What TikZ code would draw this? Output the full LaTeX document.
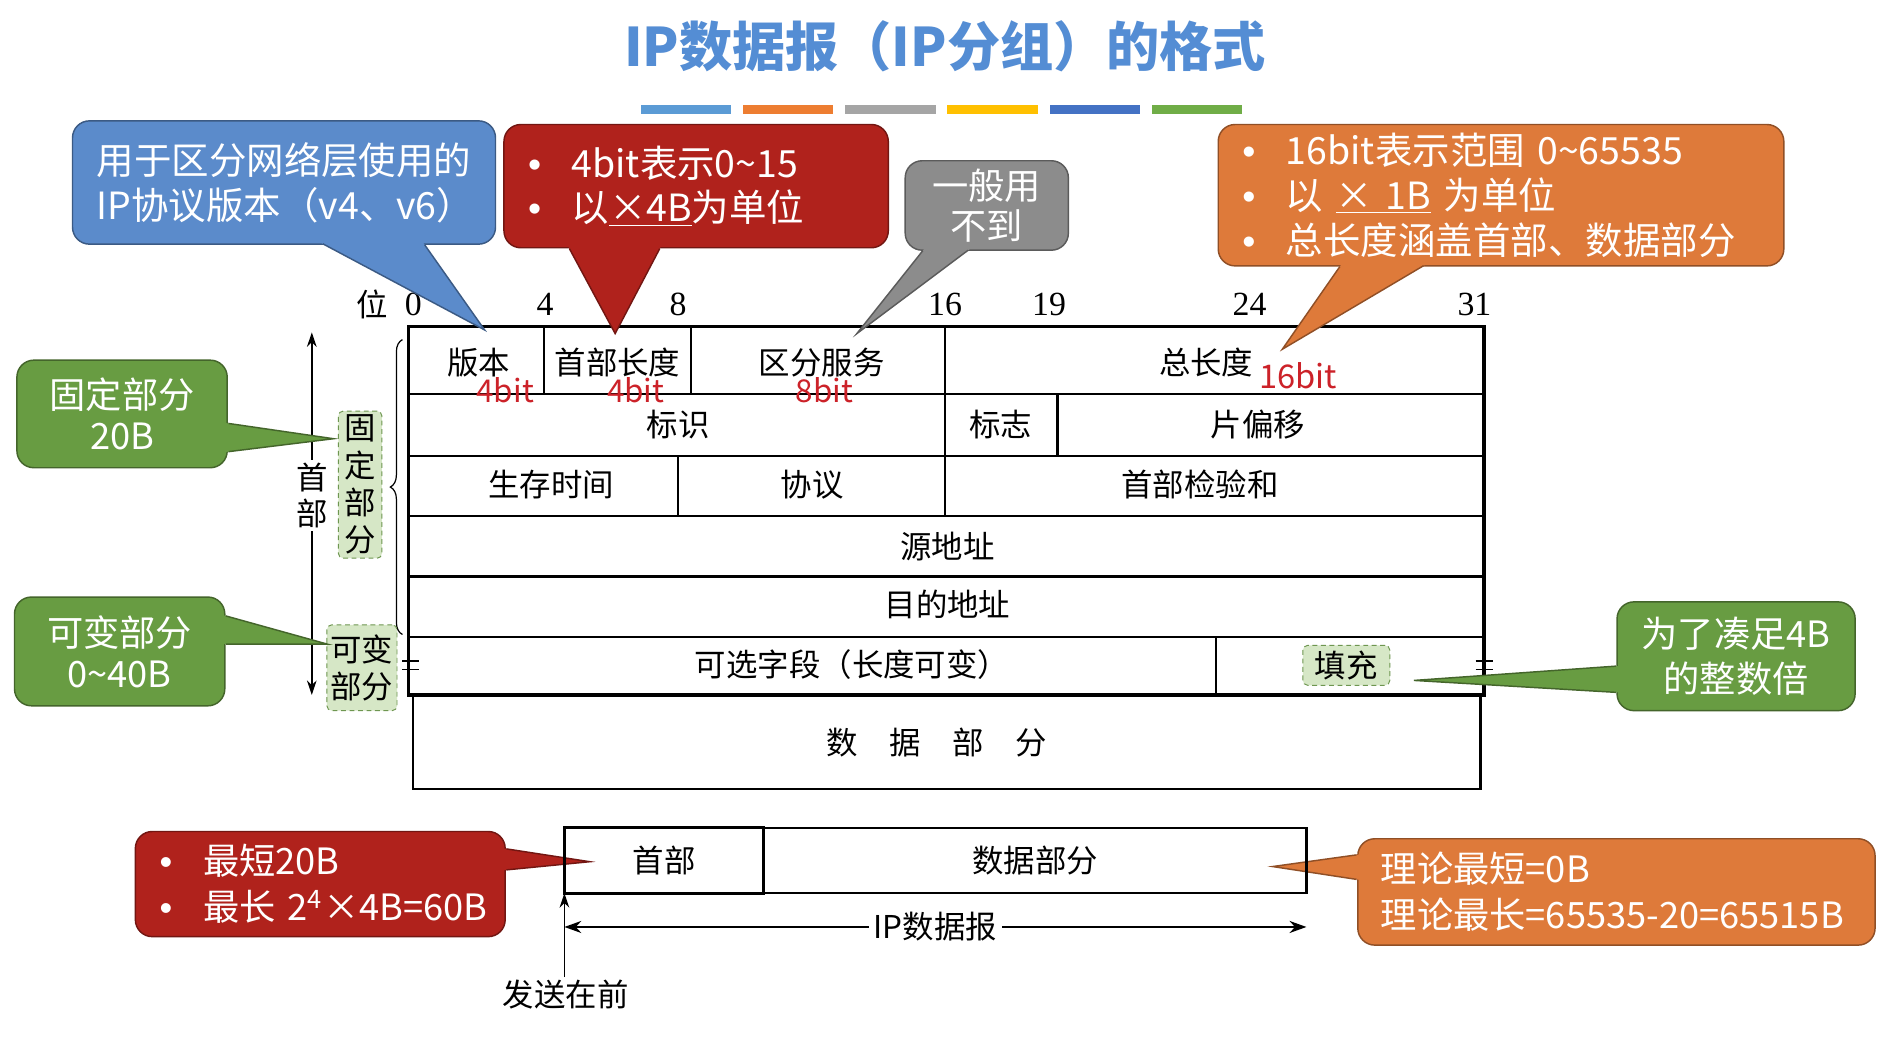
\documentclass[tikz,border=0pt]{standalone}
\usepackage{fontspec}
\setmainfont{Noto Sans CJK SC}
\newfontfamily\numfont{Liberation Serif}
\newfontfamily\bulfont{Liberation Sans}
\usetikzlibrary{positioning,arrows.meta,decorations.pathreplacing}

\definecolor{titleblue}{RGB}{84,141,212}
\definecolor{cblue}{RGB}{91,139,203}
\definecolor{cred}{RGB}{176,34,28}
\definecolor{cgray}{RGB}{140,140,140}
\definecolor{corange}{RGB}{222,122,58}
\definecolor{cgreen}{RGB}{104,156,66}
\definecolor{lgreen}{RGB}{214,231,198}
\definecolor{dgreen}{RGB}{110,150,80}
\definecolor{bitred}{RGB}{204,34,41}
\definecolor{barblue}{RGB}{91,155,213}
\definecolor{barorange}{RGB}{237,125,49}
\definecolor{bargray}{RGB}{165,165,165}
\definecolor{baryellow}{RGB}{255,192,0}
\definecolor{bardblue}{RGB}{68,114,196}
\definecolor{bargreen}{RGB}{112,173,71}

\newcommand{\dotitem}{\makebox[18pt][l]{\bulfont •}}
% pointer of a callout: base point, tip, base point
\newcommand{\calltip}[4]{%
  \fill[#1] (#2) -- (#3) -- (#4) -- cycle;
  \draw[#1!65!black, line width=0.6pt, shorten <=1.2pt, shorten >=1.2pt] (#2) -- (#3) -- (#4);}

\begin{document}
\begin{tikzpicture}[x=0.5pt, y=-0.5pt, >={Stealth[length=6pt,width=4pt]},
    cell/.style={font=\fontsize{13}{15}\selectfont, inner sep=1pt},
    bitnum/.style={font=\numfont\fontsize{14}{16}\selectfont, inner sep=1pt},
    bitlen/.style={font=\fontsize{13}{15}\selectfont, text=bitred, inner sep=0pt},
    tipbox/.style={rounded corners=7pt, draw=#1!65!black, fill=#1, text=white, line width=0.6pt,
      font=\fontsize{15.5}{18.5}\selectfont, inner xsep=10pt, inner ysep=2pt},
    padbox/.style={draw=dgreen, dash pattern=on 2pt off 1.5pt, fill=lgreen, rounded corners=2pt,
      inner sep=1.5pt, align=center, font=\fontsize{13}{15.5}\selectfont}]
  \fill[white] (0,0) rectangle (1568,859);
  \useasboundingbox (0,0) rectangle (1568,859);

  % title
  \node[font=\bfseries\fontsize{22}{26}\selectfont, text=titleblue] (title) at (782,38) {IP数据报（IP分组）的格式};
  \foreach \c [count=\i from 0] in {barblue,barorange,bargray,baryellow,bardblue,bargreen}
    \fill[\c] (530+84.6*\i,87) rectangle ++(75,7);

  % header grid
  \draw[line width=1.5pt] (338,270) rectangle (1228,575);
  \foreach \y in {326,377,427,477,527}
    \draw[line width=0.9pt] (338,\y) -- (1228,\y);
  \draw[line width=0.9pt] (450,270) -- (450,326) (572,270) -- (572,326) (782,270) -- (782,427)
    (875,326) -- (875,377) (561,377) -- (561,427) (1006,527) -- (1006,575);
  \draw[line width=0.9pt] (342,575) rectangle (1225,653);
  \draw[line width=0.7pt] (333,547) -- (347,547) (333,554) -- (347,554)
    (1221,547) -- (1235,547) (1221,554) -- (1235,554);

  \node[cell] (wei) at (308,252) {位};
  \foreach \b/\x in {0/342,4/451,8/561,16/782,19/868,24/1034,31/1220}
    \node[bitnum] (bit\b) at (\x,252) {\b};

  \begin{scope}[every node/.style={cell}]
    \node (ver) at (396,300) {版本};
    \node (hlen) at (511,300) {首部长度};
    \node (tos) at (680,300) {区分服务};
    \node (tlen) at (998,300) {总长度};
    \node (ident) at (561,351) {标识};
    \node (flag) at (828,351) {标志};
    \node (frag) at (1041,351) {片偏移};
    \node (ttl) at (456,401) {生存时间};
    \node (proto) at (672,401) {协议};
    \node (csum) at (993,401) {首部检验和};
    \node (src) at (784,452) {源地址};
    \node (dst) at (784,500) {目的地址};
    \node (opt) at (705,550) {可选字段（长度可变）};
    \node (data) at (775,614) {数\quad 据\quad 部\quad 分};
  \end{scope}

  \node[bitlen] (len4a) at (418,323) {4bit};
  \node[bitlen] (len4b) at (526,323) {4bit};
  \node[bitlen] (len8) at (682,323) {8bit};
  \node[bitlen, font=\fontsize{13.5}{15}\selectfont] (len16) at (1074,311) {16bit};

  % left side of the header
  \draw[decorate, decoration={brace, amplitude=5pt}, line width=0.5pt] (333,525) -- (333,281);
  \coordinate (htop) at (258,275);
  \coordinate (hbot) at (258,575);
  \draw[<->, line width=0.6pt] (htop) -- node[cell, pos=0.45, fill=white, align=center] (hlbl) {首\\部} (hbot);

  \node[padbox, minimum width=18pt] (fixlbl) at (298,401) {固\\定\\部\\分};
  \node[padbox, minimum width=27.5pt, minimum height=35.5pt] (varlbl) at (299.5,552.5) {可变\\部分};
  \node[padbox, minimum width=36pt, minimum height=16.5pt] (padlbl) at (1114,550.5) {填充};

  % callouts
  \node[tipbox=cblue, text width=155pt, minimum height=51pt, align=left] (cvers) at (235,151)
    {用于区分网络层使用的\\IP协议版本（v4、v6）};
  \node[tipbox=cred, text width=139pt, minimum height=51pt, align=left] (chlen) at (576,154)
    {\dotitem 4bit表示0\textasciitilde15\\\dotitem 以\underline{×4B}为单位};
  \node[tipbox=cgray, minimum width=67.5pt, minimum height=37pt, align=center,
    font=\fontsize{15}{16.5}\selectfont] (cnot) at (816.5,170) {一般用\\不到};
  \node[tipbox=corange, text width=214pt, minimum height=58.5pt, align=left] (ctot) at (1242,161.5)
    {\dotitem\mbox{16bit表示范围 0\textasciitilde65535}\\\dotitem\mbox{以 \underline{× 1B} 为单位}\\\dotitem 总长度涵盖首部、数据部分};
  \node[tipbox=cgreen, minimum width=87pt, minimum height=44.5pt, align=center,
    font=\fontsize{15}{17}\selectfont] (cfix) at (101,342.5) {固定部分\\20B};
  \node[tipbox=cgreen, minimum width=87pt, minimum height=45pt, align=center,
    font=\fontsize{15}{17}\selectfont] (cvar) at (99,539) {可变部分\\0\textasciitilde40B};
  \node[tipbox=cgreen, minimum width=98.5pt, minimum height=45pt, align=center,
    font=\fontsize{15}{19}\selectfont] (cpad) at (1436.5,543) {为了凑足4B\\的整数倍};
  \node[tipbox=cred, text width=133pt, minimum height=43.5pt, align=left,
    font=\fontsize{15}{19}\selectfont] (cmin) at (265,731.5)
    {\dotitem\mbox{最短20B}\\\dotitem\mbox{最长 2\textsuperscript{4}×4B=60B}};
  \node[tipbox=corange, text width=195pt, minimum height=44pt, align=left, inner xsep=9.5pt,
    font=\fontsize{15}{19}\selectfont] (cmax) at (1337.5,738)
    {\mbox{理论最短=0B}\\\mbox{理论最长=65535-20=65515B}};

  \coordinate (tvers) at (401,273);
  \coordinate (thlen) at (509,276);
  \coordinate (tnot) at (709,276);
  \coordinate (ttot) at (1061,289);
  \coordinate (tfix) at (276,363);
  \coordinate (tvar) at (271,533);
  \coordinate (tpad) at (1170,563);
  \coordinate (tmin) at (488,713);
  \coordinate (tmax) at (1053,717);

  \calltip{cblue}{[xshift=15pt,yshift=1pt]cvers.south}{tvers}{[xshift=57.5pt,yshift=1pt]cvers.south}
  \calltip{cred}{[xshift=-53pt,yshift=1pt]chlen.south}{thlen}{[xshift=-14.5pt,yshift=1pt]chlen.south}
  \calltip{cgray}{[xshift=-25.75pt,yshift=1pt]cnot.south}{tnot}{[xshift=-6.75pt,yshift=1pt]cnot.south}
  \calltip{corange}{[xshift=-66pt,yshift=1pt]ctot.south}{ttot}{[xshift=-31pt,yshift=1pt]ctot.south}
  \calltip{cgreen}{[xshift=-1pt,yshift=-3.75pt]cfix.east}{tfix}{[xshift=-1pt,yshift=-15.75pt]cfix.east}
  \calltip{cgreen}{[xshift=-1pt,yshift=15pt]cvar.east}{tvar}{[xshift=-1pt,yshift=3pt]cvar.east}
  \calltip{cgreen}{[xshift=1pt,yshift=-4pt]cpad.west}{tpad}{[xshift=1pt,yshift=-15pt]cpad.west}
  \calltip{cred}{[xshift=-1pt,yshift=14.75pt]cmin.east}{tmin}{[xshift=-1pt,yshift=5.75pt]cmin.east}
  \calltip{corange}{[xshift=1pt,yshift=15.5pt]cmax.west}{tmax}{[xshift=1pt,yshift=5pt]cmax.west}

  % datagram at the bottom
  \node[cell, draw, line width=1.2pt, outer sep=0pt, minimum width=82.5pt, minimum height=27pt] (hbox) at (549.5,712) {首部};
  \node[cell, draw, line width=0.9pt, outer sep=0pt, minimum width=224.5pt, minimum height=27pt, right=0pt of hbox] (dbox) {数据部分};
  \draw[<->, >={Stealth[length=7pt,width=5pt]}, line width=0.8pt] ([yshift=-14pt]hbox.south west)
    -- node[cell, fill=white, inner sep=2pt] (dglbl) {IP数据报} ([yshift=-14pt]dbox.south east);
  \node[cell] (send) at (468,823) {发送在前};
  \draw[->, line width=0.6pt] (send.north -| hbox.south west) -- (hbox.south west);
\end{tikzpicture}
\end{document}
